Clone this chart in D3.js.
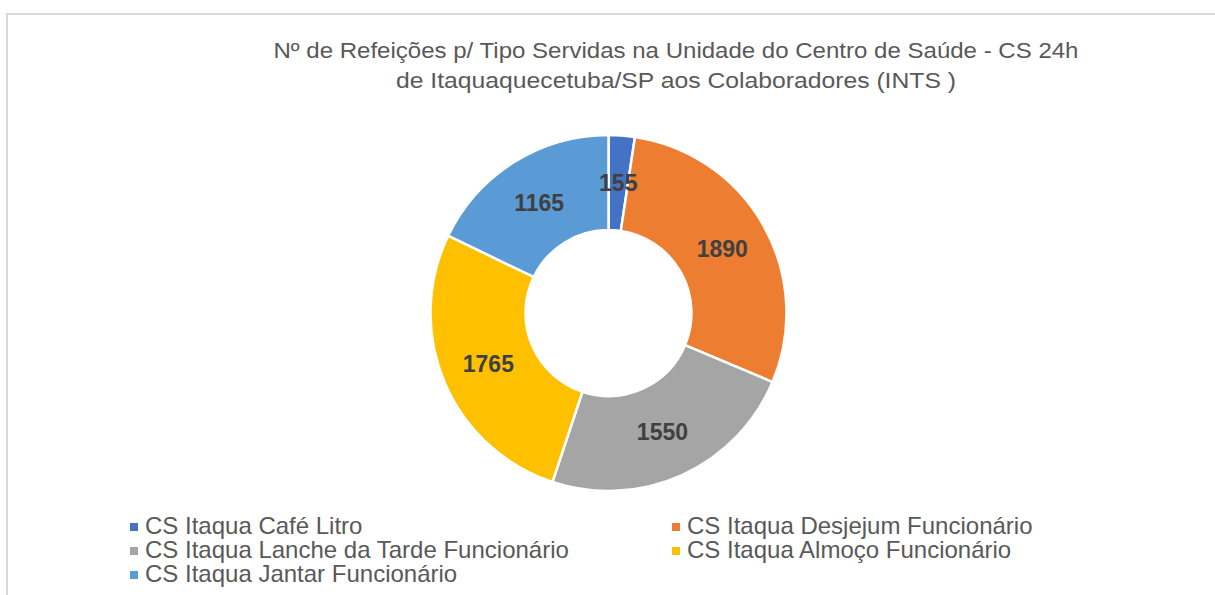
<!DOCTYPE html>
<html>
<head>
<meta charset="utf-8">
<script src="https://cdn.jsdelivr.net/npm/d3@7"></script>
<style>
  body { margin: 0; background: #fff; }
  text { font-family: "Liberation Sans", Arial, sans-serif; }
</style>
</head>
<body>
<svg id="chart" width="1215" height="595"></svg>
<script>
// dados do gráfico
const categories = ["CS Itaqua Café Litro", "CS Itaqua Desjejum Funcionário", "CS Itaqua Lanche da Tarde Funcionário", "CS Itaqua Almoço Funcionário", "CS Itaqua Jantar Funcionário"];
const values = [155, 1890, 1550, 1765, 1165];
const colors = ["#4472C4", "#ED7D31", "#A5A5A5", "#FFC000", "#5B9BD5"];
const titleLines = ["Nº de Refeições p/ Tipo Servidas na Unidade do Centro de Saúde - CS 24h", "de Itaquaquecetuba/SP aos Colaboradores (INTS )"];

const svg = d3.select("#chart");

// borda da área do gráfico
svg.append("path")
  .attr("d", "M7,595 L7,14 L1215,14")
  .attr("stroke", "#d9d9d9")
  .attr("stroke-width", 2)
  .attr("fill", "none");

// título
const titleW = [805, 560];
titleLines.forEach((t, i) => {
  svg.append("text")
    .attr("x", 676)
    .attr("y", 58 + i * 30)
    .attr("text-anchor", "middle")
    .attr("font-size", 22.5)
    .attr("fill", "#595959")
    .attr("textLength", titleW[i])
    .attr("lengthAdjust", "spacingAndGlyphs")
    .text(t);
});

// rosca
const cx = 608.5, cy = 313, rOut = 178, rIn = 83;
const pie = d3.pie().sort(null).value(d => d);
const arc = d3.arc().innerRadius(rIn).outerRadius(rOut);
const arcs = pie(values);

const g = svg.append("g").attr("transform", `translate(${cx},${cy})`);
g.selectAll("path.slice")
  .data(arcs)
  .enter().append("path")
  .attr("class", "slice")
  .attr("d", arc)
  .attr("fill", (d, i) => colors[i])
  .attr("stroke", "#fff")
  .attr("stroke-width", 2.5)
  .attr("stroke-linejoin", "round");

g.selectAll("text.lbl")
  .data(arcs)
  .enter().append("text")
  .attr("class", "lbl")
  .attr("x", d => arc.centroid(d)[0])
  .attr("y", d => arc.centroid(d)[1])
  .attr("dy", "0.35em")
  .attr("text-anchor", "middle")
  .attr("font-size", 23)
  .attr("font-weight", "bold")
  .attr("fill", "#404040")
  .text(d => d.data);

// legenda
const legX = [130, 672];
const legY0 = 527, legDy = 24;
categories.forEach((c, i) => {
  const col = i % 2, row = Math.floor(i / 2);
  const lx = legX[col], ly = legY0 + row * legDy;
  svg.append("rect")
    .attr("x", lx).attr("y", ly - 4)
    .attr("width", 8).attr("height", 8)
    .attr("fill", colors[i]);
  svg.append("text")
    .attr("x", lx + 15)
    .attr("y", ly + 7)
    .attr("font-size", 24)
    .attr("fill", "#595959")
    .text(c);
});
</script>
</body>
</html>
